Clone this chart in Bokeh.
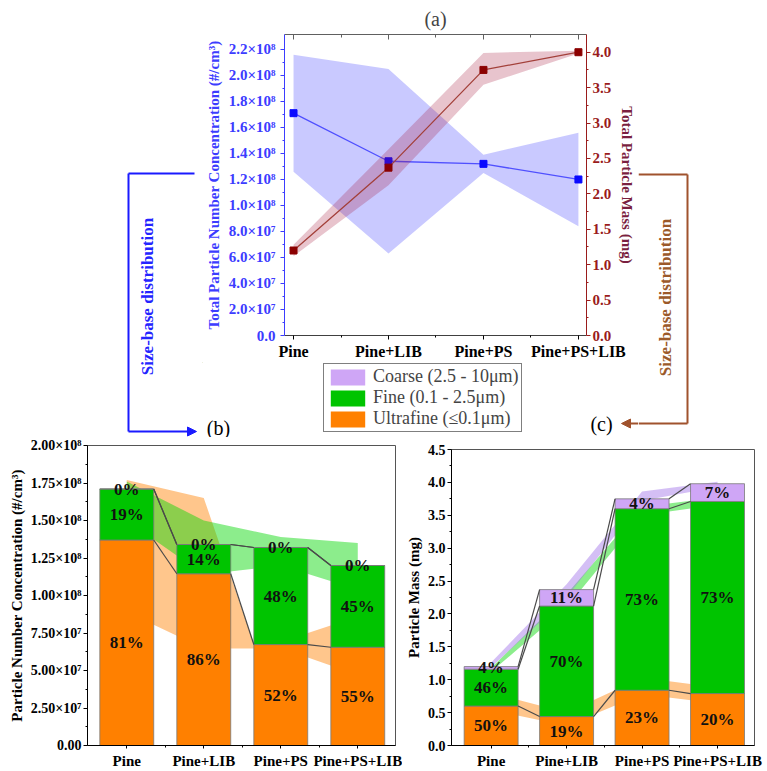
import numpy as np
from bokeh.plotting import figure
from bokeh.models import (Range1d, LinearAxis, FixedTicker, Arrow, NormalHead,
                          Label, Legend, LegendItem)
from bokeh.layouts import column, row
from bokeh.core.properties import value
from bokeh.embed import file_html
from bokeh.resources import INLINE

# ---------------- data ----------------
categories = ["Pine", "Pine+LIB", "Pine+PS", "Pine+PS+LIB"]

# (a) totals with variation bands
total_number = [1.71e8, 1.34e8, 1.32e8, 1.20e8]
total_number_low = [1.26e8, 0.63e8, 1.25e8, 0.84e8]
total_number_high = [2.16e8, 2.05e8, 1.39e8, 1.56e8]
total_mass = [1.20, 2.37, 3.75, 4.00]
total_mass_low = [1.12, 2.12, 3.54, 3.98]
total_mass_high = [1.28, 2.63, 3.99, 4.02]

# (b) number-based size distribution
ultra_number = [1.37e8, 1.145e8, 0.673e8, 0.655e8]
fine_number = [0.34e8, 0.195e8, 0.647e8, 0.545e8]
coarse_number = [0.0, 0.0, 0.0, 0.0]
ultra_number_pct = ["81%", "86%", "52%", "55%"]
fine_number_pct = ["19%", "14%", "48%", "45%"]
coarse_number_pct = ["0%", "0%", "0%", "0%"]
ultra_number_band_x = [0, 1, 1.65, 2, 3]
ultra_number_band_low = [0.89e8, 0.647e8, 0.647e8, 0.65e8, 0.47e8]
ultra_number_band_high = [1.77e8, 1.65e8, 0.68e8, 0.69e8, 0.86e8]
fine_number_band_low = [1.50e8, 1.14e8, 1.20e8, 1.04e8]
fine_number_band_high = [1.76e8, 1.50e8, 1.39e8, 1.35e8]

# (c) mass-based size distribution
ultra_mass = [0.60, 0.44, 0.84, 0.79]
fine_mass = [0.56, 1.68, 2.76, 2.92]
coarse_mass = [0.04, 0.25, 0.15, 0.27]
ultra_mass_pct = ["50%", "19%", "23%", "20%"]
fine_mass_pct = ["46%", "70%", "73%", "73%"]
coarse_mass_pct = ["4%", "11%", "4%", "7%"]
ultra_mass_band_low = [0.54, 0.30, 0.78, 0.64]
ultra_mass_band_high = [0.80, 0.50, 1.03, 0.88]
fine_mass_band_low = [1.12, 2.10, 3.50, 3.66]
fine_mass_band_high = [1.18, 2.30, 3.63, 3.77]
coarse_mass_band_low = [1.19, 2.25, 3.72, 3.93]
coarse_mass_band_high = [1.26, 2.45, 3.86, 4.01]

# ticks
number_ticks_a = [i * 2e7 for i in range(12)]
number_tick_labels_a = ["0.0", "2.0×10⁷", "4.0×10⁷", "6.0×10⁷", "8.0×10⁷", "1.0×10⁸",
                        "1.2×10⁸", "1.4×10⁸", "1.6×10⁸", "1.8×10⁸", "2.0×10⁸", "2.2×10⁸"]
mass_ticks_a = [i * 0.5 for i in range(9)]
mass_tick_labels_a = ["0.0", "0.5", "1.0", "1.5", "2.0", "2.5", "3.0", "3.5", "4.0"]
number_ticks_b = [i * 2.5e7 for i in range(9)]
number_tick_labels_b = ["0.00", "2.50×10⁷", "5.00×10⁷", "7.50×10⁷", "1.00×10⁸",
                        "1.25×10⁸", "1.50×10⁸", "1.75×10⁸", "2.00×10⁸"]
mass_ticks_c = [i * 0.5 for i in range(10)]
mass_tick_labels_c = ["0.0", "0.5", "1.0", "1.5", "2.0", "2.5", "3.0", "3.5", "4.0", "4.5"]

legend_labels = ["Coarse (2.5 - 10μm)", "Fine (0.1 - 2.5μm)", "Ultrafine (≤0.1μm)"]

# ---------------- styles ----------------
FONT = "Liberation Serif"
ORANGE = "#ff8000"
GREEN = "#00c400"
PURPLE = "#cfa6f6"
BLUE = "#3c3cff"
RED_AX = "#9a1c1c"
BROWN = "#a0522d"
idx = list(range(len(categories)))
cat_overrides = {i: c for i, c in enumerate(categories)}


def minor_between(ticks):
    return [(a + b) / 2 for a, b in zip(ticks[:-1], ticks[1:])]


def style_axis(ax, color="black", size="15px", label_size="15px"):
    ax.axis_line_color = color
    ax.major_tick_line_color = color
    ax.minor_tick_line_color = color
    ax.major_label_text_color = color
    ax.axis_label_text_color = color
    ax.major_label_text_font = FONT
    ax.major_label_text_font_style = "bold"
    ax.major_label_text_font_size = size
    ax.axis_label_text_font = FONT
    ax.axis_label_text_font_style = "bold"
    ax.axis_label_text_font_size = label_size
    ax.major_tick_in = 0
    ax.major_tick_out = 4
    ax.minor_tick_in = 0
    ax.minor_tick_out = 2


def canvas(width, height, x0, y0):
    """Blank figure whose data coordinates equal page pixels (for brackets/labels)."""
    f = figure(width=width, height=height, x_range=Range1d(x0, x0 + width),
               y_range=Range1d(y0 + height, y0), output_backend="svg",
               toolbar_location=None, x_axis_type=None, y_axis_type=None, min_border=0,
               frame_align=False)
    f.outline_line_color = None
    f.xgrid.visible = False
    f.ygrid.visible = False
    return f


def seg(fig, x0, y0, x1, y1, color, head=False):
    fig.add_layout(Arrow(x_start=x0, y_start=y0, x_end=x1, y_end=y1, line_color=color,
                         line_width=2,
                         end=NormalHead(size=9, fill_color=color, line_color=color) if head else None))


def lab(fig, x, y, text, color="black", size="20px", bold=False, angle=0.0):
    fig.add_layout(Label(x=x, y=y, text=text, text_align="center", text_baseline="middle",
                         angle=angle, text_font=FONT, text_font_size=size, text_color=color,
                         text_font_style="bold" if bold else "normal"))


# ---------------- (a) ----------------
pa = figure(width=436, height=362, x_range=Range1d(-0.095, 3.085),
            y_range=Range1d(0, 2.315e8), output_backend="svg", toolbar_location=None,
            min_border_left=81, min_border_right=52, min_border_top=34,
            min_border_bottom=26, frame_align=False)
pa.outline_line_color = None
pa.xgrid.visible = False
pa.ygrid.visible = False
pa.extra_y_ranges = {"mass": Range1d(0, 4.25)}
pa.title.text = "(a)"
pa.title.align = "center"
pa.title.text_font = FONT
pa.title.text_font_size = "20px"
pa.title.text_font_style = "normal"
pa.title.standoff = 9

xa = pa.xaxis[0]
xa.ticker = FixedTicker(ticks=idx, minor_ticks=[0.5, 1.5, 2.5])
xa.major_label_overrides = cat_overrides
style_axis(xa, color="black", size="16px")
xa.axis_line_color = "#404040"
xa.major_label_standoff = 3

ya = pa.yaxis[0]
ya.ticker = FixedTicker(ticks=number_ticks_a, minor_ticks=minor_between(number_ticks_a))
ya.major_label_overrides = dict(zip(number_ticks_a, number_tick_labels_a))
ya.axis_label = "Total Particle Number Concentration (#/cm³)"
style_axis(ya, color=BLUE)
ya.major_label_standoff = 5
ya.axis_label_standoff = 4

ra = LinearAxis(y_range_name="mass")
ra.ticker = FixedTicker(ticks=mass_ticks_a, minor_ticks=minor_between(mass_ticks_a))
ra.major_label_overrides = dict(zip(mass_ticks_a, mass_tick_labels_a))
ra.axis_label = "Total Particle Mass (mg)"
style_axis(ra, color=RED_AX)
ra.axis_label_text_color = "#7a1f40"
ra.major_label_standoff = 2
ra.axis_label_standoff = 5
pa.add_layout(ra, "right")

ta = LinearAxis(ticker=FixedTicker(ticks=idx, minor_ticks=[0.5, 1.5, 2.5]))
ta.major_label_overrides = {i: "" for i in idx}
ta.major_label_standoff = 0
ta.axis_line_color = "#606060"
ta.major_tick_line_color = "#606060"
ta.minor_tick_line_color = "#606060"
ta.major_tick_in = 5
ta.major_tick_out = 0
ta.minor_tick_in = 3
ta.minor_tick_out = 0
pa.add_layout(ta, "above")

pa.varea(x=idx, y1=total_number_low, y2=total_number_high, fill_color="#0000ff", fill_alpha=0.21)
pa.line(idx, total_number, line_color="#5050ff", line_width=1.3)
pa.scatter(idx, total_number, marker="square", size=7, fill_color="#0a0aff", line_color="#0a0aff")
pa.varea(x=idx, y1=total_mass_low, y2=total_mass_high, fill_color="#a41438", fill_alpha=0.25,
         y_range_name="mass")
pa.line(idx, total_mass, line_color="#a3403a", line_width=1.3, y_range_name="mass")
pa.scatter(idx, total_mass, marker="square", size=7, fill_color="#8b0000", line_color="#8b0000",
           y_range_name="mass")

# ---------------- side panels with the brackets ----------------
BLUE_BR = "#1a1aff"
left_c = canvas(202, 437, 0, 0)
seg(left_c, 194, 173, 128, 173, BLUE_BR)
seg(left_c, 128, 173, 128, 431, BLUE_BR)
seg(left_c, 128, 431, 196, 431, BLUE_BR, head=True)
lab(left_c, 147, 296, "Size-base distribution", color="#2424ff", size="17px", bold=True,
    angle=np.pi / 2)

right_c = canvas(129, 437, 638, 0)
seg(right_c, 638, 174, 687, 174, BROWN)
seg(right_c, 687, 174, 687, 423, BROWN)
seg(right_c, 687, 423, 638, 423, BROWN)
lab(right_c, 665, 297, "Size-base distribution", color="#9b5a2a", size="17px", bold=True,
    angle=np.pi / 2)

mid_c = canvas(436, 75, 202, 362)
seg(mid_c, 639, 423, 621, 423, BROWN, head=True)
lab(mid_c, 218, 427, "(b)")
lab(mid_c, 601, 423, "(c)")

# legend swatches: renderers placed off-canvas so only their legend glyphs show
swatches = [mid_c.vbar(x=[-500], bottom=[0], top=[1], width=1, fill_color=col, line_color=None)
            for col in (PURPLE, GREEN, ORANGE)]
legend = Legend(items=[LegendItem(label=t, renderers=[r]) for t, r in zip(legend_labels, swatches)],
                location=(121, 5), label_text_font=FONT, label_text_font_size="18px",
                glyph_width=43, glyph_height=20, label_height=20, padding=2, spacing=0,
                margin=0, label_standoff=4, border_line_color="black", border_line_width=1,
                background_fill_color="white", background_fill_alpha=1.0)
mid_c.add_layout(legend)


# ---------------- (b) and (c) ----------------
def stacked_panel(width, x_rng, y_rng, borders, layers, pcts, bands, ticks, tick_labels,
                  ylabel, bar_w):
    left, right, top, bottom = borders
    p = figure(width=width, height=334, x_range=x_rng, y_range=y_rng,
               output_backend="svg", toolbar_location=None,
               min_border_left=left, min_border_right=right, min_border_top=top,
               min_border_bottom=bottom, frame_align=False)
    p.xgrid.visible = False
    p.ygrid.visible = False
    p.outline_line_color = "#555555"
    xax = p.xaxis[0]
    xax.ticker = FixedTicker(ticks=idx, minor_ticks=[0.5, 1.5, 2.5])
    xax.major_label_overrides = cat_overrides
    style_axis(xax)
    xax.major_label_standoff = 4
    xax.major_tick_out = 3
    yax = p.yaxis[0]
    yax.ticker = FixedTicker(ticks=ticks, minor_ticks=minor_between(ticks))
    yax.major_label_overrides = dict(zip(ticks, tick_labels))
    yax.axis_label = ylabel
    style_axis(yax, size="14px")
    yax.major_label_standoff = 2
    yax.axis_label_standoff = 3

    for bx, lo, hi, col in bands:
        p.varea(x=bx, y1=lo, y2=hi, fill_color=col, fill_alpha=0.45)

    colors = [ORANGE, GREEN, PURPLE]
    bottom_vals = np.zeros(len(idx))
    mids = []
    for layer, col in zip(layers, colors):
        layer = np.array(layer, dtype=float)
        top_vals = bottom_vals + layer
        p.vbar(x=idx, width=bar_w, bottom=bottom_vals, top=top_vals, fill_color=col,
               line_color="#7a7a7a", line_width=0.8)
        mids.append(bottom_vals + layer / 2)
        bottom_vals = top_vals

    cum = np.cumsum(np.array(layers, dtype=float), axis=0)
    x0, y0, x1, y1 = [], [], [], []
    for level in cum:
        for i in range(len(idx) - 1):
            x0.append(i + bar_w / 2)
            x1.append(i + 1 - bar_w / 2)
            y0.append(level[i])
            y1.append(level[i + 1])
    p.segment(x0, y0, x1, y1, line_color="#4a4a4a", line_width=1.2)

    for mid, txt in zip(mids, pcts):
        p.text(x=idx, y=list(mid), text=txt, text_align="center", text_baseline="middle",
               text_font=value(FONT), text_font_style="bold", text_font_size="17px",
               text_color="#111111")
    return p


pb = stacked_panel(402, Range1d(-0.51, 3.49), Range1d(0, 2.0e8), (87, 7, 8, 26),
                   [ultra_number, fine_number, coarse_number],
                   [ultra_number_pct, fine_number_pct, coarse_number_pct],
                   [(ultra_number_band_x, ultra_number_band_low, ultra_number_band_high, ORANGE),
                    (idx, fine_number_band_low, fine_number_band_high, "#00d800")],
                   number_ticks_b, number_tick_labels_b,
                   "Particle Number Concentration (#/cm³)", 0.70)

pc = stacked_panel(365, Range1d(-0.525, 3.49), Range1d(0, 4.5), (46, 13, 12, 26),
                   [ultra_mass, fine_mass, coarse_mass],
                   [ultra_mass_pct, fine_mass_pct, coarse_mass_pct],
                   [(idx, ultra_mass_band_low, ultra_mass_band_high, ORANGE),
                    (idx, fine_mass_band_low, fine_mass_band_high, "#00d800"),
                    (idx, coarse_mass_band_low, coarse_mass_band_high, "#a070e8")],
                   mass_ticks_c, mass_tick_labels_c, "Particle Mass (mg)", 0.715)

top_block = row(left_c, column(pa, mid_c, spacing=0), right_c, spacing=0)
layout = column(top_block, row(pb, pc, spacing=0), spacing=0)
open("out.html", "w").write(file_html(layout, INLINE))
